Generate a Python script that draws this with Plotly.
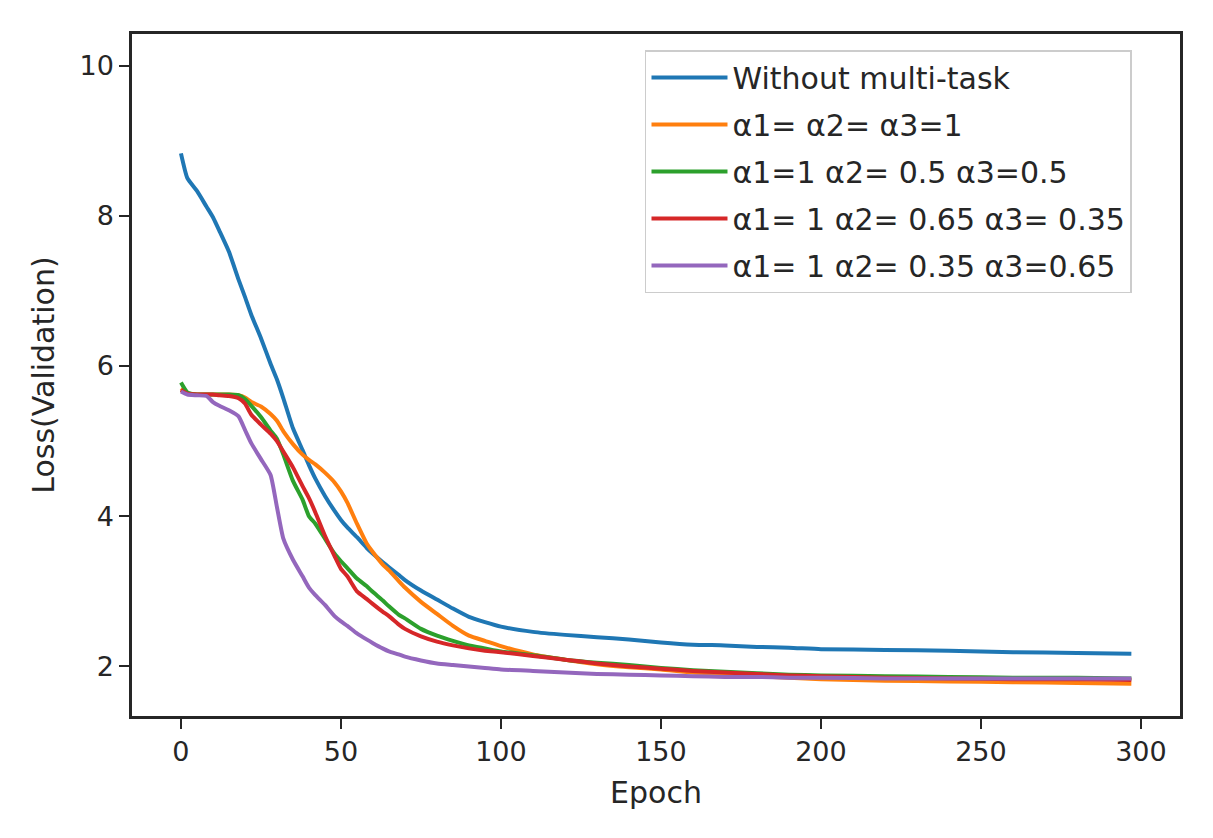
import plotly.graph_objects as go

# Epochs où les courbes ont été lues
epochs = [0, 2, 5, 8, 10, 12, 15, 18, 20, 22, 25, 28, 30, 32, 35, 38, 40, 42, 45, 48,
          50, 52, 55, 58, 60, 63, 65, 68, 70, 75, 80, 85, 90, 95, 100, 110, 120, 130,
          140, 150, 160, 170, 180, 190, 200, 220, 240, 260, 280, 297]

loss_no_multitask = [8.83, 8.5, 8.33, 8.12, 7.98, 7.8, 7.52, 7.15, 6.92, 6.68, 6.37, 6.03,
                     5.82, 5.57, 5.17, 4.88, 4.68, 4.5, 4.27, 4.07, 3.95, 3.85, 3.72, 3.58,
                     3.5, 3.39, 3.32, 3.22, 3.15, 3.01, 2.89, 2.77, 2.66, 2.59, 2.53, 2.46,
                     2.42, 2.39, 2.36, 2.32, 2.29, 2.28, 2.26, 2.25, 2.23, 2.22, 2.21, 2.19,
                     2.18, 2.17]

loss_a_1_1_1 = [5.7, 5.64, 5.62, 5.62, 5.62, 5.62, 5.62, 5.61, 5.58, 5.52, 5.46, 5.36,
                5.27, 5.13, 4.96, 4.82, 4.75, 4.69, 4.58, 4.45, 4.33, 4.18, 3.9, 3.64,
                3.52, 3.36, 3.28, 3.14, 3.05, 2.86, 2.7, 2.54, 2.41, 2.34, 2.27, 2.16,
                2.09, 2.03, 1.99, 1.96, 1.92, 1.9, 1.87, 1.85, 1.83, 1.81, 1.8, 1.79,
                1.78, 1.77]

loss_a_1_05_05 = [5.78, 5.65, 5.62, 5.62, 5.62, 5.62, 5.62, 5.61, 5.56, 5.47, 5.32, 5.14,
                  5.03, 4.82, 4.47, 4.22, 4.0, 3.9, 3.7, 3.5, 3.4, 3.31, 3.17, 3.07,
                  2.99, 2.88, 2.8, 2.69, 2.64, 2.5, 2.41, 2.34, 2.28, 2.24, 2.2, 2.15,
                  2.09, 2.05, 2.02, 1.98, 1.95, 1.93, 1.91, 1.89, 1.88, 1.87, 1.86, 1.85,
                  1.85, 1.84]

loss_a_1_065_035 = [5.68, 5.63, 5.62, 5.62, 5.62, 5.61, 5.6, 5.57, 5.5, 5.35, 5.22, 5.1,
                    5.0, 4.86, 4.65, 4.4, 4.24, 4.05, 3.74, 3.47, 3.3, 3.2, 3.0, 2.9,
                    2.83, 2.73, 2.67, 2.56, 2.5, 2.4, 2.33, 2.28, 2.24, 2.21, 2.19, 2.14,
                    2.09, 2.04, 2.0, 1.97, 1.94, 1.92, 1.9, 1.88, 1.87, 1.85, 1.84, 1.83,
                    1.83, 1.82]

loss_a_1_035_065 = [5.66, 5.62, 5.61, 5.6, 5.52, 5.47, 5.41, 5.33, 5.15, 4.97, 4.76, 4.55,
                    4.12, 3.7, 3.42, 3.2, 3.05, 2.95, 2.82, 2.67, 2.6, 2.54, 2.44, 2.36,
                    2.31, 2.24, 2.2, 2.16, 2.13, 2.08, 2.04, 2.02, 2.0, 1.98, 1.96, 1.94,
                    1.92, 1.9, 1.89, 1.88, 1.87, 1.86, 1.86, 1.85, 1.85, 1.84, 1.84, 1.84,
                    1.84, 1.84]

labels = ['Without multi-task', 'α1= α2= α3=1', 'α1=1 α2= 0.5 α3=0.5',
          'α1= 1 α2= 0.65 α3= 0.35', 'α1= 1 α2= 0.35 α3=0.65']
series = [loss_no_multitask, loss_a_1_1_1, loss_a_1_05_05, loss_a_1_065_035, loss_a_1_035_065]
colors = ['#1f77b4', '#ff7f0e', '#2ca02c', '#d62728', '#9467bd']

fig = go.Figure()
for i, (name, values, color) in enumerate(zip(labels, series, colors)):
    fig.add_trace(go.Scatter(
        x=epochs, y=values, mode='lines', name=name, legendgroup=str(i),
        line=dict(color=color, width=4, shape='spline', smoothing=0.5),
    ))

axis_style = dict(
    showline=True, mirror=True, linecolor='#262626', linewidth=2.5,
    ticks='outside', ticklen=10, tickwidth=2, tickcolor='#262626',
    showgrid=False, zeroline=False,
    tickfont=dict(size=27, color='#262626'),
)

fig.update_layout(
    width=1200, height=826,
    margin=dict(l=124, r=28, t=26, b=118),
    paper_bgcolor='white', plot_bgcolor='white',
    font=dict(family='DejaVu Sans', color='#262626'),
    xaxis=dict(range=[-15.3, 312.2], tickvals=[0, 50, 100, 150, 200, 250, 300],
               title=dict(text='Epoch', font=dict(size=30), standoff=16), **axis_style),
    yaxis=dict(range=[1.34, 10.42], tickvals=[2, 4, 6, 8, 10],
               title=dict(text='Loss(Validation)', font=dict(size=30), standoff=16), **axis_style),
    legend=dict(
        x=0.4895, y=0.9765, xanchor='left', yanchor='top',
        font=dict(size=30, color='#262626'),
        bgcolor='rgba(255,255,255,0.8)', bordercolor='#cccccc', borderwidth=1.5,
        tracegroupgap=5, itemwidth=76,
    ),
)

fig.write_html("out.html")
